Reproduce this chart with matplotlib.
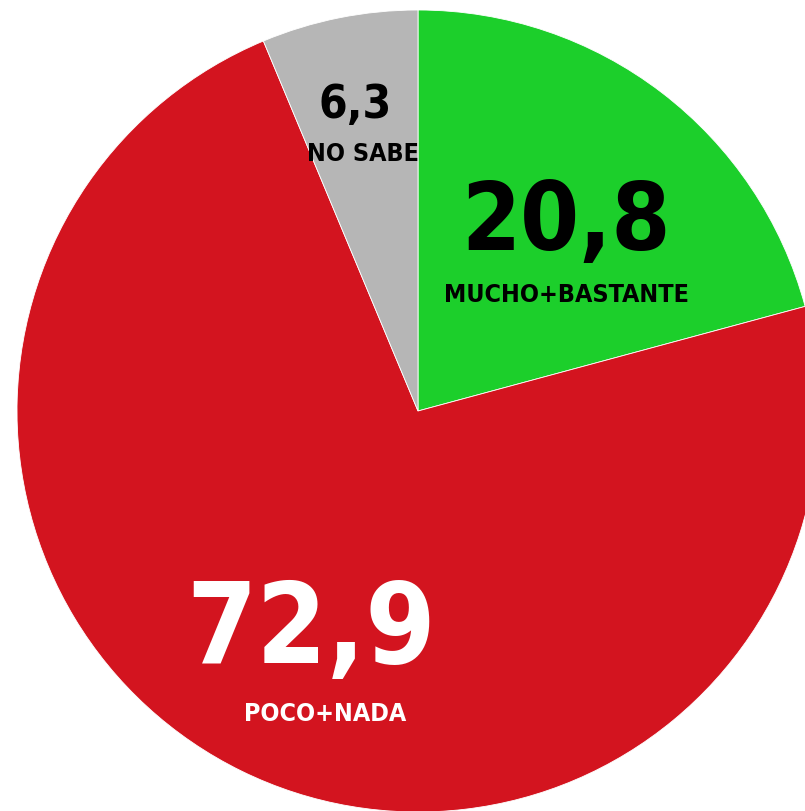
import matplotlib.pyplot as plt

labels = ["MUCHO+BASTANTE", "POCO+NADA", "NO SABE"]
values = [20.8, 72.9, 6.3]
value_text = ["20,8", "72,9", "6,3"]
colors = ["#1ccf2b", "#d3141f", "#b6b6b6"]

W, H = 805, 811
fig = plt.figure(figsize=(W / 100, H / 100), dpi=100)
ax = fig.add_axes([0, 0, 1, 1])

ax.pie(values, colors=colors, startangle=90, counterclock=False,
       center=(418, H - 411), radius=401,
       wedgeprops=dict(edgecolor="white", linewidth=0.6))

# pie resets the limits, so set them afterwards
ax.set_xlim(0, W)
ax.set_ylim(0, H)
ax.set_aspect("equal")
ax.axis("off")

fam = ["DejaVu Sans"]

def put(x, y, s, size, color):
    ax.text(x, H - y, s, ha="center", va="baseline", fontsize=size,
            fontweight="bold", fontstretch="condensed", color=color, family=fam)

# big values (x, baseline y in pixels from top)
put(566, 250, value_text[0], 68, "black")
put(311, 663, value_text[1], 81, "white")
put(355, 118, value_text[2], 33, "black")
# category labels
put(566, 302, labels[0], 18, "black")
put(325, 721, labels[1], 18, "white")
put(363, 161, labels[2], 18, "black")

fig.savefig("out.png", dpi=100)
